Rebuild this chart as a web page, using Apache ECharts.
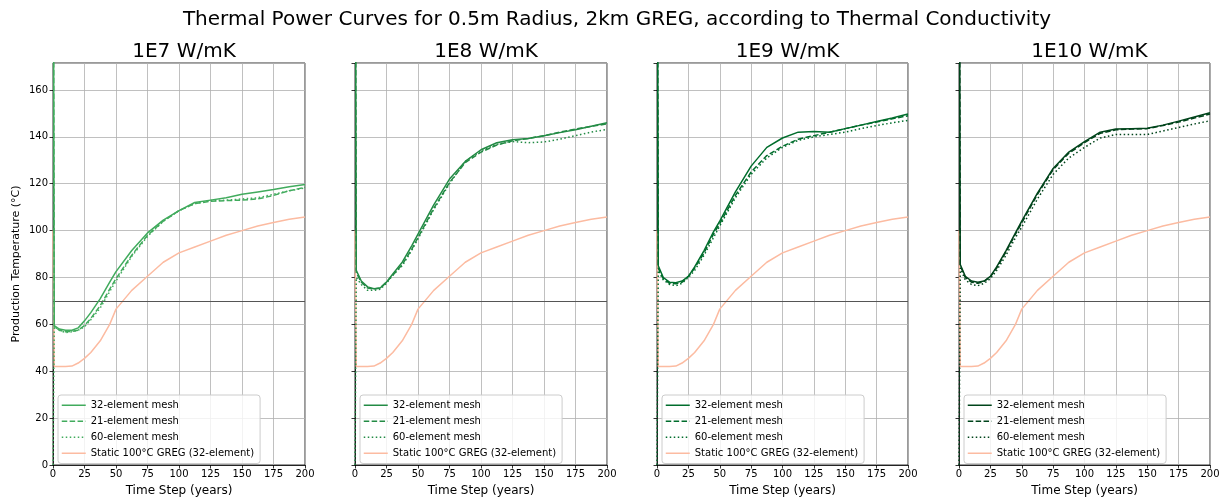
<!DOCTYPE html>
<html><head><meta charset="utf-8">
<script src="https://cdn.jsdelivr.net/npm/echarts@6/dist/echarts.min.js"></script>
<style>html,body{margin:0;padding:0;background:#fff}#c{width:1223px;height:499px}</style>
</head><body><div id="c"></div>
<script>
// ---- data ----
const mainTitle = 'Thermal Power Curves for 0.5m Radius, 2km GREG, according to Thermal Conductivity';
const panelTitles = ['1E7 W/mK', '1E8 W/mK', '1E9 W/mK', '1E10 W/mK'];
const seriesNames = ['32-element mesh', '21-element mesh', '60-element mesh', 'Static 100°C GREG (32-element)'];
const years = [0, 1, 5, 10, 15, 20, 25, 30, 37.5, 45, 50, 62.5, 75, 87.5, 100, 112.5, 125, 137.5, 150, 162.5, 175, 187.5, 200];
const xTicks = [0, 25, 50, 75, 100, 125, 150, 175, 200];
const yTicks = [0, 20, 40, 60, 80, 100, 120, 140, 160];
const threshold = 70;

const k1e7_32 = [300, 59.5, 58, 57.5, 57.5, 58.5, 61.5, 65, 71, 78, 82.5, 91.5, 99, 104.5, 108.5, 112, 113, 114, 115.5, 116.5, 117.5, 118.7, 119.7];
const k1e7_21 = [300, 59, 57.5, 56.8, 57, 57.5, 59.5, 62.5, 68, 75, 79.5, 89.5, 98, 104, 108.5, 111.5, 112.5, 112.8, 113, 113.5, 115, 117, 118.5];
const k1e7_60 = [0, 59, 57.5, 56.5, 56.8, 57.5, 59, 62, 67, 74, 78.5, 89, 97.5, 104, 108.5, 111.5, 112.8, 113, 113.5, 114, 115.5, 117, 118.2];

const k1e8_32 = [300, 83, 78.5, 76, 75.2, 75.5, 78, 81.5, 86.5, 93.5, 98.5, 111, 122, 129.5, 134.5, 137.5, 138.8, 139.3, 140.5, 141.8, 143, 144.5, 146];
const k1e8_21 = [300, 82, 78, 75.5, 75, 75.5, 78, 81, 85.5, 92, 97, 109.5, 120.5, 129, 133.5, 136.5, 138.3, 139.3, 140.5, 142, 143.3, 144.5, 145.5];
const k1e8_60 = [0, 80, 77, 74.5, 74.5, 75, 77.5, 81, 85, 91.5, 96.5, 109, 120, 129.5, 134, 136.8, 138, 137.5, 137.8, 139, 140.5, 142, 143.2];

const k1e9_32 = [300, 85, 80, 78, 77.8, 78.5, 80.5, 84.5, 91.5, 99.5, 104, 116.5, 127.5, 135.5, 139.5, 142, 142.3, 142, 143.5, 145, 146.5, 148, 149.7];
const k1e9_21 = [300, 84, 79.5, 77.5, 77.3, 78, 80.5, 84, 90.5, 98.5, 103, 115, 125, 132, 136, 139, 140.5, 142, 143.5, 145, 146.3, 147.7, 149];
const k1e9_60 = [0, 83, 79, 77, 76.5, 77.5, 80, 83, 89.5, 97, 102, 114, 124, 131, 135.5, 138.5, 140, 141, 142, 143.5, 144.8, 146, 147];

const k1e10_32 = [300, 85.5, 80.5, 78.5, 78, 78.5, 80.5, 84.5, 91.5, 99, 104, 116, 126.5, 133.5, 138, 142, 143.3, 143.5, 143.7, 145, 146.7, 148.5, 150.3];
const k1e10_21 = [300, 85, 80, 78, 77.5, 78.3, 80.3, 84, 91, 98.5, 103.3, 115.5, 126, 133, 137.5, 141.5, 143, 143.3, 143.5, 144.8, 146.3, 148, 149.7];
const k1e10_60 = [0, 84, 79, 77, 76.5, 77.5, 79.5, 83, 89.5, 97, 101.5, 113.5, 124, 131, 135.5, 139.5, 141, 141, 141, 142.5, 144, 145.5, 146.8];

const staticGreg = [100, 42, 42, 42, 42.2, 43.5, 45.5, 48, 53, 60, 66.5, 74.5, 80.5, 86.5, 90.5, 93, 95.5, 98, 100, 102, 103.5, 104.8, 105.8];

const panelData = [
  [k1e7_32, k1e7_21, k1e7_60],
  [k1e8_32, k1e8_21, k1e8_60],
  [k1e9_32, k1e9_21, k1e9_60],
  [k1e10_32, k1e10_21, k1e10_60]
];

// ---- styling / layout ----
const panelColors = ['#41ab5d', '#238b45', '#006d2c', '#00441b'];
const staticColor = '#fcbba1';
const dashTypes = ['solid', [5.5, 2.4], [1.5, 2.5]];
const gridLefts = [53, 355, 657, 959];
const gridWidths = [252, 252, 251, 251];
const gridTop = 63, gridHeight = 402;
const yMax = 171.5;
const FONT = 'DejaVu Sans';

const zip = (xs, ys) => xs.map((x, i) => [x, ys[i]]);

const option = {
  animation: false,
  backgroundColor: '#ffffff',
  textStyle: { fontFamily: FONT },
  title: [{
    text: mainTitle, left: 612, top: 5, textAlign: 'center',
    textStyle: { fontFamily: FONT, fontSize: 20, fontWeight: 'normal', color: '#000' }
  }].concat(panelTitles.map((t, i) => ({
    text: t, left: gridLefts[i] + gridWidths[i] / 2, top: 37, textAlign: 'center',
    textStyle: { fontFamily: FONT, fontSize: 20, fontWeight: 'normal', color: '#000' }
  }))),
  grid: gridLefts.map((l, i) => ({
    left: l, width: gridWidths[i], top: gridTop, height: gridHeight,
    outerBoundsMode: 'none', containLabel: false,
    show: true, borderColor: '#000', borderWidth: 0.8, backgroundColor: 'transparent'
  })),
  xAxis: gridLefts.map((l, i) => ({
    type: 'value', gridIndex: i, min: 0, max: 200, interval: 25,
    name: 'Time Step (years)', nameLocation: 'middle', nameGap: 20,
    nameTextStyle: { fontFamily: FONT, fontSize: 12, color: '#000' },
    axisLine: { show: true, onZero: false, lineStyle: { color: '#000', width: 0.8 } },
    axisTick: { show: true, length: 3.5, lineStyle: { color: '#000', width: 0.8 } },
    axisLabel: { fontFamily: FONT, fontSize: 10, color: '#000', margin: 4,
      formatter: v => (xTicks.includes(v) ? String(v) : '') },
    splitLine: { show: true, lineStyle: { color: '#b0b0b0', width: 0.8 } }
  })),
  yAxis: gridLefts.map((l, i) => ({
    type: 'value', gridIndex: i, min: 0, max: yMax, interval: 20,
    name: i === 0 ? 'Production Temperature (°C)' : '', nameLocation: 'middle', nameGap: 31,
    nameTextStyle: { fontFamily: FONT, fontSize: 11, color: '#000' },
    axisLine: { show: true, lineStyle: { color: '#000', width: 0.8 } },
    axisTick: { show: true, length: 3.5, lineStyle: { color: '#000', width: 0.8 } },
    axisLabel: { show: i === 0, fontFamily: FONT, fontSize: 10, color: '#000', margin: 5,
      showMaxLabel: false,
      formatter: v => (yTicks.includes(v) ? String(v) : '') },
    splitLine: { show: true, lineStyle: { color: '#b0b0b0', width: 0.8 } }
  })),
  legend: gridLefts.map((l, i) => ({
    show: true, type: 'plain',
    orient: 'vertical', left: l + 5, top: 395,
    padding: [4, 6, 4, 3], itemGap: 3.5, itemWidth: 24, itemHeight: 10,
    backgroundColor: 'rgba(255,255,255,0.8)', borderColor: '#cccccc', borderWidth: 1, borderRadius: 3,
    textStyle: { fontFamily: FONT, fontSize: 10, color: '#000', lineHeight: 12.5 },
    selectedMode: false,
    data: seriesNames.map((n, j) => ({
      name: n,
      lineStyle: { color: j < 3 ? panelColors[i] : staticColor, width: 1.5, type: j < 3 ? dashTypes[j] : 'solid' },
      itemStyle: { color: 'rgba(0,0,0,0)', borderColor: 'rgba(0,0,0,0)', borderWidth: 0, opacity: 0 }
    }))
  })),
  series: []
};

panelData.forEach((arrs, i) => {
  arrs.forEach((ys, j) => {
    option.series.push({
      type: 'line', name: seriesNames[j], xAxisIndex: i, yAxisIndex: i,
      data: zip(years, ys), symbol: 'none', clip: true, z: 5 - j,
      lineStyle: { color: panelColors[i], width: 1.5, type: dashTypes[j] },
      itemStyle: { color: panelColors[i] }
    });
  });
  option.series.push({
    type: 'line', name: seriesNames[3], xAxisIndex: i, yAxisIndex: i,
    data: zip(years, staticGreg), symbol: 'none', clip: true, z: 1,
    lineStyle: { color: staticColor, width: 1.5 }, itemStyle: { color: staticColor },
    markLine: {
      silent: true, symbol: 'none', label: { show: false },
      lineStyle: { color: '#555555', type: 'solid', width: 1 },
      data: [{ yAxis: threshold }]
    }
  });
});

const chart = echarts.init(document.getElementById('c'), null, { renderer: 'canvas' });
chart.setOption(option);
</script></body></html>
